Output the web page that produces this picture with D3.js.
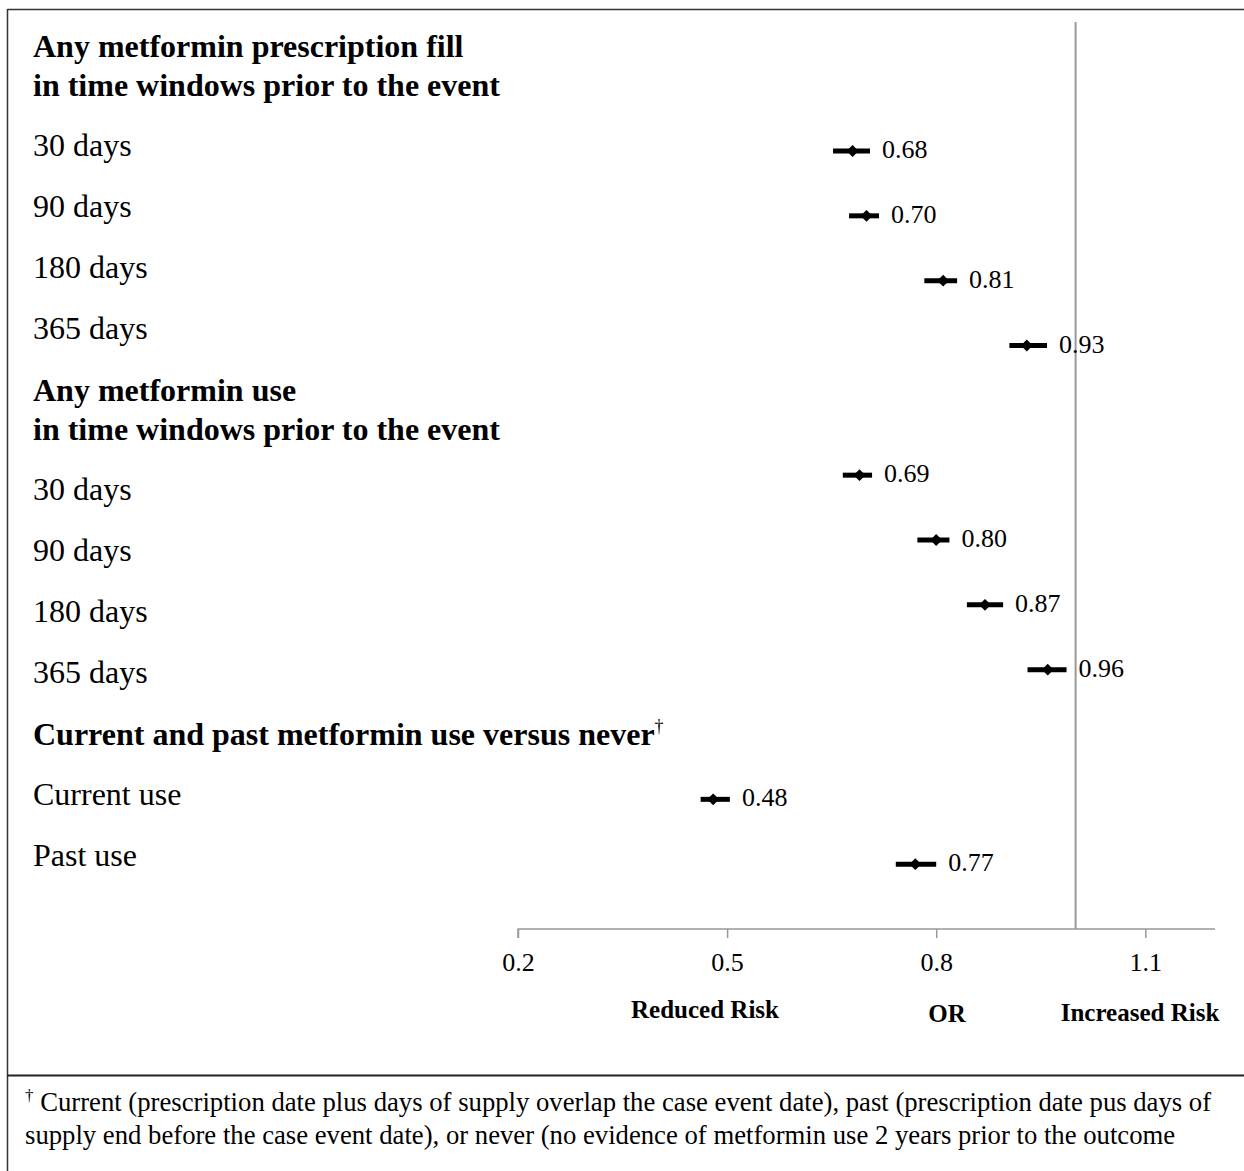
<!DOCTYPE html>
<html>
<head>
<meta charset="utf-8">
<script src="https://cdn.jsdelivr.net/npm/d3@7/dist/d3.min.js"></script>
<style>
  html, body { margin: 0; padding: 0; background: #fff; }
  svg text { font-family: "Liberation Serif", "Times New Roman", serif; }
</style>
</head>
<body>
<svg id="chart" width="1244" height="1171" font-family="Liberation Serif"></svg>
<script>
// Left-hand text column: kind "h" = bold heading line, "r" = row label
const labelLines = [
  { text: "Any metformin prescription fill", kind: "h" },
  { text: "in time windows prior to the event", kind: "h" },
  { text: "30 days", kind: "r" },
  { text: "90 days", kind: "r" },
  { text: "180 days", kind: "r" },
  { text: "365 days", kind: "r" },
  { text: "Any metformin use", kind: "h" },
  { text: "in time windows prior to the event", kind: "h" },
  { text: "30 days", kind: "r" },
  { text: "90 days", kind: "r" },
  { text: "180 days", kind: "r" },
  { text: "365 days", kind: "r" },
  { text: "Current and past metformin use versus never", kind: "h", dagger: true },
  { text: "Current use", kind: "r" },
  { text: "Past use", kind: "r" }
];

// Odds ratios with confidence limits; slot = plotting row (0 at top)
const slots = [0, 1, 2, 3, 5, 6, 7, 8, 10, 11];
const oddsRatio = [0.68, 0.70, 0.81, 0.93, 0.69, 0.80, 0.87, 0.96, 0.48, 0.77];
const lowerCI   = [0.652, 0.675, 0.783, 0.905, 0.666, 0.773, 0.844, 0.931, 0.462, 0.742];
const upperCI   = [0.705, 0.718, 0.830, 0.959, 0.708, 0.819, 0.896, 0.987, 0.504, 0.800];
const ratioLabels = ["0.68", "0.70", "0.81", "0.93", "0.69", "0.80", "0.87", "0.96", "0.48", "0.77"];

const tickValues = [0.2, 0.5, 0.8, 1.1];
const nullValue = 1.0;
const axisTitles = ["Reduced Risk", "OR", "Increased Risk"];
const footnote = [
  "Current (prescription date plus days of supply overlap the case event date), past (prescription date pus days of",
  "supply end before the case event date), or never (no evidence of metformin use 2 years prior to the outcome"
];

const FONT = "Liberation Serif";
const svg = d3.select("#chart");

// Frame: top and left rules, plus the rule above the footnote
svg.append("line").attr("x1", 7.5).attr("x2", 1244).attr("y1", 9.5).attr("y2", 9.5)
  .attr("stroke", "#333").attr("stroke-width", 1.5);
svg.append("line").attr("x1", 7.5).attr("x2", 7.5).attr("y1", 9).attr("y2", 1171)
  .attr("stroke", "#333").attr("stroke-width", 1.5);
svg.append("line").attr("x1", 7).attr("x2", 1244).attr("y1", 1075.5).attr("y2", 1075.5)
  .attr("stroke", "#222").attr("stroke-width", 2);

// Scales
const x = d3.scaleLinear().domain([0.2, 1.2]).range([518, 1215]);
const y = d3.scalePoint().domain(d3.range(13)).range([151, 929]);
const axisY = y(12);

// Row label text column
let ty = 57;
const gaps = { hh: 39, hr: 60, rr: 61, rh: 62 };
labelLines.forEach((d, i) => {
  if (i > 0) {
    const prev = labelLines[i - 1].kind;
    ty += gaps[prev + d.kind];
  }
  const t = svg.append("text")
    .attr("x", 33).attr("y", ty)
    .attr("font-family", FONT)
    .attr("font-size", 32)
    .attr("font-weight", d.kind === "h" ? "bold" : "normal")
    .attr("fill", "#000")
    .text(d.text);
  if (d.dagger) {
    t.append("tspan").attr("font-size", 18).attr("dy", -13).attr("font-weight", "normal").text("\u2020");
  }
});

// Null-effect reference line
svg.append("line")
  .attr("x1", x(nullValue)).attr("x2", x(nullValue))
  .attr("y1", 22).attr("y2", axisY)
  .attr("stroke", "#999").attr("stroke-width", 2);

// x axis
const axis = d3.axisBottom(x).tickValues(tickValues).tickSize(9).tickFormat(d3.format(".1f"));
const gAxis = svg.append("g").attr("transform", `translate(0,${axisY})`).call(axis)
  .attr("font-family", FONT);
gAxis.select(".domain").attr("stroke", "#999").attr("stroke-width", 1.5)
  .attr("d", `M${x(0.2)},9V0H${x(1.2)}`);
gAxis.selectAll(".tick line").attr("stroke", "#999").attr("stroke-width", 1.5);
gAxis.selectAll(".tick text")
  .attr("font-family", FONT)
  .attr("font-size", 26).attr("fill", "#000").attr("dy", 0).attr("y", 42);

// Axis titles
const titleX = [705, 947, 1140];
const titleY = [1018, 1022, 1021];
axisTitles.forEach((t, i) => {
  svg.append("text")
    .attr("x", titleX[i]).attr("y", titleY[i])
    .attr("text-anchor", "middle")
    .attr("font-family", FONT)
    .attr("font-size", 25).attr("font-weight", "bold")
    .attr("fill", "#000")
    .text(t);
});

// Confidence interval bars, point markers and value labels
const rows = oddsRatio.map((v, i) => ({ v, lo: lowerCI[i], hi: upperCI[i], slot: slots[i], label: ratioLabels[i] }));
const g = svg.append("g");
g.selectAll("line.ci").data(rows).join("line")
  .attr("class", "ci")
  .attr("x1", d => x(d.lo)).attr("x2", d => x(d.hi))
  .attr("y1", d => y(d.slot)).attr("y2", d => y(d.slot))
  .attr("stroke", "#000").attr("stroke-width", 5);
g.selectAll("path.pt").data(rows).join("path")
  .attr("class", "pt")
  .attr("d", d3.symbol(d3.symbolDiamond2, 90))
  .attr("transform", d => `translate(${x(d.v)},${y(d.slot)})`)
  .attr("fill", "#000");
g.selectAll("text.val").data(rows).join("text")
  .attr("class", "val")
  .attr("x", d => x(d.hi) + 12)
  .attr("y", d => y(d.slot) + 7)
  .attr("font-family", FONT)
  .attr("font-size", 26).attr("fill", "#000")
  .text(d => d.label);

// Footnote
const fn = svg.append("text").attr("x", 25).attr("y", 1111)
  .attr("font-family", FONT).attr("font-size", 26.7).attr("fill", "#000");
fn.append("tspan").attr("font-size", 17).attr("dy", -10).text("\u2020");
fn.append("tspan").attr("dy", 10).text(" " + footnote[0]);
svg.append("text").attr("x", 25).attr("y", 1144)
  .attr("font-family", FONT).attr("font-size", 26.7).attr("fill", "#000").text(footnote[1]);
</script>
</body>
</html>
